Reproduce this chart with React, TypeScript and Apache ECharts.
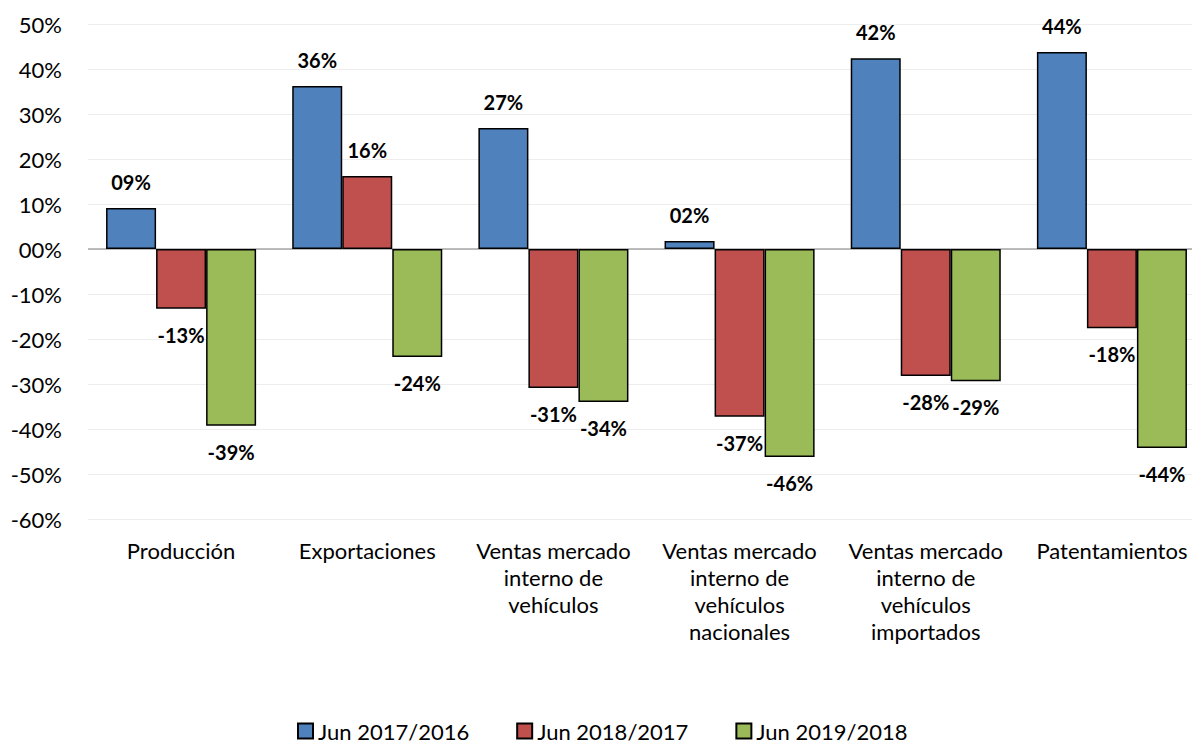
import React, { useEffect, useRef } from "react";
import * as echarts from "echarts";

const categories = [
  "Producción",
  "Exportaciones",
  "Ventas mercado\ninterno de\nvehículos",
  "Ventas mercado\ninterno de\nvehículos\nnacionales",
  "Ventas mercado\ninterno de\nvehículos\nimportados",
  "Patentamientos",
];
const seriesNames = ["Jun 2017/2016", "Jun 2018/2017", "Jun 2019/2018"];
const jun2017 = [9.1, 36.2, 26.9, 1.8, 42.4, 43.8];
const jun2018 = [-13.3, 16.2, -30.9, -37.3, -28.2, -17.6];
const jun2019 = [-39.3, -24.0, -34.0, -46.2, -29.4, -44.2];
const colors = ["#4F81BD", "#C0504D", "#9BBB59"];

const FONT = "Lato, 'Noto Sans', sans-serif";

function fmtLabel(v: number): string {
  const r = Math.round(Math.abs(v));
  const s = r < 10 ? "0" + r : String(r);
  return (v < 0 ? "-" : "") + s + "%";
}

export default function App() {
  const ref = useRef<HTMLDivElement>(null);
  useEffect(() => {
    document.body.style.margin = "0";
    document.body.style.overflow = "hidden";
    if (!ref.current) return;
    const chart = echarts.init(ref.current, undefined, { renderer: "svg" });
    const allData = [jun2017, jun2018, jun2019];
    chart.setOption({
      animation: false,
      textStyle: { fontFamily: FONT },
      grid: {
        left: 88,
        right: -13,
        top: 24,
        bottom: 225,
        containLabel: false,
        outerBoundsMode: "none",
      },
      legend: {
        top: 720,
        left: 297,
        padding: 0,
        itemWidth: 15,
        itemHeight: 15,
        itemGap: 47,
        icon: "rect",
        textStyle: { fontSize: 22, lineHeight: 20, color: "#000", fontFamily: FONT },
        data: seriesNames,
      },
      xAxis: {
        type: "category",
        data: categories,
        axisLine: { show: false, onZero: false },
        axisTick: { show: false },
        axisLabel: {
          interval: 0,
          color: "#000",
          fontSize: 22,
          lineHeight: 27,
          margin: 18,
          fontFamily: FONT,
        },
      },
      yAxis: {
        type: "value",
        min: -60,
        max: 50,
        interval: 10,
        axisLine: { show: false },
        axisTick: { show: false },
        splitLine: { lineStyle: { color: "#EDEDED", width: 1 } },
        axisLabel: {
          color: "#000",
          fontSize: 22,
          margin: 26,
          fontFamily: FONT,
          formatter: (v: number) => (v === 0 ? "00%" : v + "%"),
        },
      },
      series: allData.map((d, i) => ({
        name: seriesNames[i],
        type: "bar",
        barGap: "0%",
        barCategoryGap: "19.4%",
        itemStyle: { color: colors[i], borderColor: "#000", borderWidth: 1.5 },
        markLine:
          i === 0
            ? {
                silent: true,
                symbol: "none",
                label: { show: false },
                lineStyle: { color: "#A6A6A6", width: 1.5, type: "solid" },
                data: [{ yAxis: 0 }],
                z: 1,
              }
            : undefined,
        data: d.map((v) => ({
          value: v,
          label: {
            show: true,
            position: v >= 0 ? "top" : "bottom",
            distance: 16,
            formatter: () => fmtLabel(v),
            fontSize: 20,
            fontWeight: "bold",
            color: "#000",
            fontFamily: FONT,
          },
        })),
      })),
    });
    return () => chart.dispose();
  }, []);
  return (
    <div
      ref={ref}
      style={{ position: "absolute", left: 0, top: 0, width: 1192, height: 744, overflow: "hidden" }}
    />
  );
}
